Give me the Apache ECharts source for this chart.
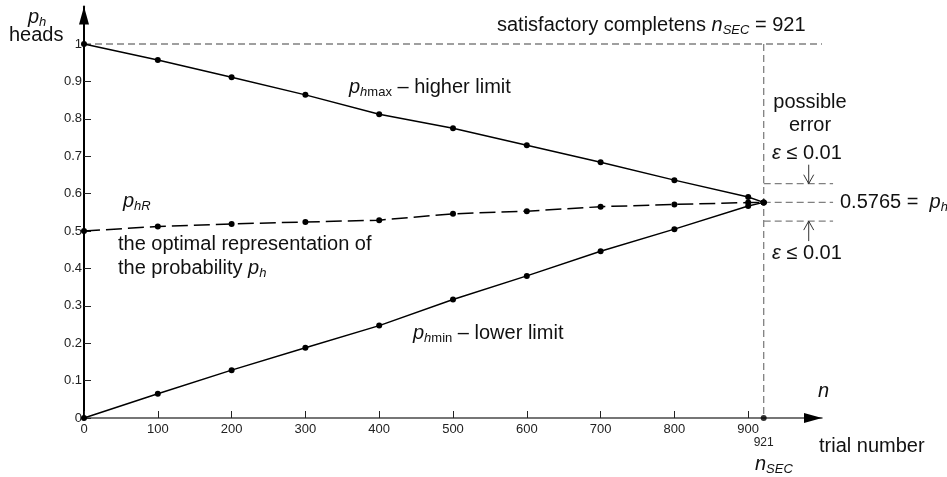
<!DOCTYPE html>
<html>
<head>
<meta charset="utf-8">
<script src="https://cdn.jsdelivr.net/npm/echarts@6/dist/echarts.min.js"></script>
<style>
  html, body { margin: 0; padding: 0; background: #fff; }
  #chart { width: 947px; height: 477px; }
</style>
</head>
<body>
<div id="chart"></div>
<script>
// Trial numbers at which the probability bounds were evaluated
const trialNumbers = [0, 100, 200, 300, 400, 500, 600, 700, 800, 900, 921];
// Upper bound p_hmax
const pHigher = [1, 0.957, 0.911, 0.864, 0.812, 0.775, 0.729, 0.684, 0.636, 0.591, 0.5765];
// Optimal representation p_hR
const pOptimal = [0.5, 0.512, 0.519, 0.524, 0.529, 0.546, 0.553, 0.565, 0.571, 0.576, 0.5765];
// Lower bound p_hmin
const pLower = [0, 0.065, 0.128, 0.188, 0.247, 0.317, 0.380, 0.446, 0.505, 0.567, 0.5765];

// Tick labels
const xTickValues = [0, 100, 200, 300, 400, 500, 600, 700, 800, 900];
const yTickValues = [0, 0.1, 0.2, 0.3, 0.4, 0.5, 0.6, 0.7, 0.8, 0.9, 1];

// Satisfactory completeness point
const nSEC = 921;
const pFinal = 0.5765;
// Drawn spacing of the epsilon bracket lines (not to scale)
const epsBracketGap = 0.05;
const bracketEndN = 1015;
const bracketArrowN = 982;
const xAxisEnd = 1000;

const FONT = '"Liberation Sans", Arial, sans-serif';

const toPairs = (ys) => trialNumbers.map((n, i) => [n, ys[i]]);

const chart = echarts.init(document.getElementById('chart'), null, { renderer: 'canvas' });

const lineSeries = (name, ys, dashed) => ({
  name,
  type: 'line',
  data: toPairs(ys),
  symbol: 'circle',
  symbolSize: 6,
  itemStyle: { color: '#000' },
  lineStyle: { color: '#000', width: 1.5, type: dashed ? [16, 6] : 'solid' },
  z: 5
});

chart.setOption({
  animation: false,
  backgroundColor: '#fff',
  grid: { left: 84, right: 125, top: 6.6, bottom: 59 },
  xAxis: {
    type: 'value',
    min: 0,
    max: xAxisEnd,
    axisLine: { show: true, lineStyle: { color: '#4a4a4a', width: 1.5 } },
    axisTick: { show: true, inside: true, length: 7, customValues: xTickValues, lineStyle: { color: '#222', width: 1 } },
    axisLabel: { customValues: xTickValues, fontSize: 13, color: '#222', margin: 5, fontFamily: FONT },
    splitLine: { show: false }
  },
  yAxis: {
    type: 'value',
    min: 0,
    max: 1.1,
    axisLine: {
      show: true,
      lineStyle: { color: '#000', width: 2 },
      symbol: ['none', 'triangle'],
      symbolSize: [10, 18],
      symbolOffset: [0, -9]
    },
    axisTick: { show: true, inside: true, length: 7, customValues: yTickValues, lineStyle: { color: '#222', width: 1 } },
    axisLabel: { customValues: yTickValues, fontSize: 13, color: '#222', margin: 2, fontFamily: FONT },
    splitLine: { show: false }
  },
  series: [
    lineSeries('p_hmax', pHigher, false),
    lineSeries('p_hR', pOptimal, true),
    lineSeries('p_hmin', pLower, false),
    {
      name: 'n_SEC',
      type: 'scatter',
      data: [[nSEC, 0]],
      symbol: 'circle',
      symbolSize: 6,
      itemStyle: { color: '#000' },
      z: 5
    }
  ]
});

// Annotation layer positioned through the axis scales
const px = (x, y) => chart.convertToPixel({ gridIndex: 0 }, [x, y]);
const DASH_GRAY = { stroke: '#808080', lineWidth: 1.3, lineDash: [7, 4], fill: null };

const dashedLine = (a, b) => ({
  type: 'line',
  z: 1,
  shape: { x1: a[0], y1: a[1], x2: b[0], y2: b[1] },
  style: DASH_GRAY,
  silent: true
});

const rich = {
  r: { fontSize: 20, fontFamily: FONT, fill: '#111', lineHeight: 24, verticalAlign: 'middle' },
  i: { fontSize: 20, fontFamily: FONT, fontStyle: 'italic', fill: '#111', lineHeight: 24, verticalAlign: 'middle' },
  s: { fontSize: 13, fontFamily: FONT, fontStyle: 'italic', fill: '#111', lineHeight: 13, verticalAlign: 'bottom' },
  sr: { fontSize: 13, fontFamily: FONT, fill: '#111', lineHeight: 13, verticalAlign: 'bottom' }
};

const label = (text, x, y, align) => ({
  type: 'text',
  z: 10,
  silent: true,
  style: {
    text, x, y,
    rich,
    fontSize: 20, fontFamily: FONT, fill: '#111',
    align: align || 'left',
    verticalAlign: 'middle'
  }
});

function buildAnnotations() {
  const els = [];
  els.push(dashedLine(px(0, 1), px(xAxisEnd, 1)));
  els.push(dashedLine(px(nSEC, 1), px(nSEC, 0)));

  const yUp = pFinal + epsBracketGap, yDn = pFinal - epsBracketGap;
  els.push(dashedLine(px(nSEC, yUp), px(bracketEndN, yUp)));
  els.push(dashedLine(px(nSEC, pFinal), px(bracketEndN, pFinal)));
  els.push(dashedLine(px(nSEC, yDn), px(bracketEndN, yDn)));

  // x-axis arrow head
  const xEnd = px(xAxisEnd, 0);
  els.push({
    type: 'polygon', z: 6, silent: true,
    shape: { points: [[xEnd[0], xEnd[1]], [xEnd[0] - 18, xEnd[1] - 5], [xEnd[0] - 18, xEnd[1] + 5]] },
    style: { fill: '#000', stroke: null }
  });

  // epsilon arrows pointing at the bracket lines
  const aU = px(bracketArrowN, yUp), aD = px(bracketArrowN, yDn);
  const arrowStyle = { stroke: '#333', lineWidth: 1, fill: null };
  els.push({ type: 'line', z: 2, shape: { x1: aU[0], y1: aU[1] - 19, x2: aU[0], y2: aU[1] }, style: arrowStyle });
  els.push({ type: 'polyline', z: 2, shape: { points: [[aU[0] - 5, aU[1] - 9], [aU[0], aU[1]], [aU[0] + 5, aU[1] - 9]] }, style: arrowStyle });
  els.push({ type: 'line', z: 2, shape: { x1: aD[0], y1: aD[1] + 20, x2: aD[0], y2: aD[1] }, style: arrowStyle });
  els.push({ type: 'polyline', z: 2, shape: { points: [[aD[0] - 5, aD[1] + 9], [aD[0], aD[1]], [aD[0] + 5, aD[1] + 9]] }, style: arrowStyle });

  const pF = px(nSEC, pFinal);
  const axisN = px(nSEC, 0);

  els.push(label('{r|satisfactory completens }{i|n}{s|SEC}{r| = 921}', 497, 25));
  els.push(label('{r|possible}', 810, 102, 'center'));
  els.push(label('{r|error}', 810, 125, 'center'));
  els.push(label('{i|ε}{r| ≤ 0.01}', 772, 153));
  els.push(label('{i|ε}{r| ≤ 0.01}', 772, 253));
  els.push(label('{r|0.5765 =  }{i|p}{s|h}', 840, pF[1]));

  els.push(label('{i|p}{s|h}{sr|max}{r| – higher limit}', 349, 87));
  els.push(label('{i|p}{s|hR}', 123, 201));
  els.push(label('{r|the optimal representation of}', 118, 244));
  els.push(label('{r|the probability }{i|p}{s|h}', 118, 268));
  els.push(label('{i|p}{s|h}{sr|min}{r| – lower limit}', 413, 333));

  els.push(label('{i|p}{s|h}', 28, 17));
  els.push(label('{r|heads}', 9, 35));

  els.push(label('{i|n}', 818, 391));
  els.push(label('{r|trial number}', 819, 446));
  els.push({
    type: 'text', z: 10, silent: true,
    style: { text: '921', x: axisN[0], y: 443, fontSize: 12, fontFamily: FONT, fill: '#222', align: 'center', verticalAlign: 'middle' }
  });
  els.push(label('{i|n}{s|SEC}', 755, 464));
  return els;
}

chart.setOption({ graphic: { elements: buildAnnotations() } });
</script>
</body>
</html>
